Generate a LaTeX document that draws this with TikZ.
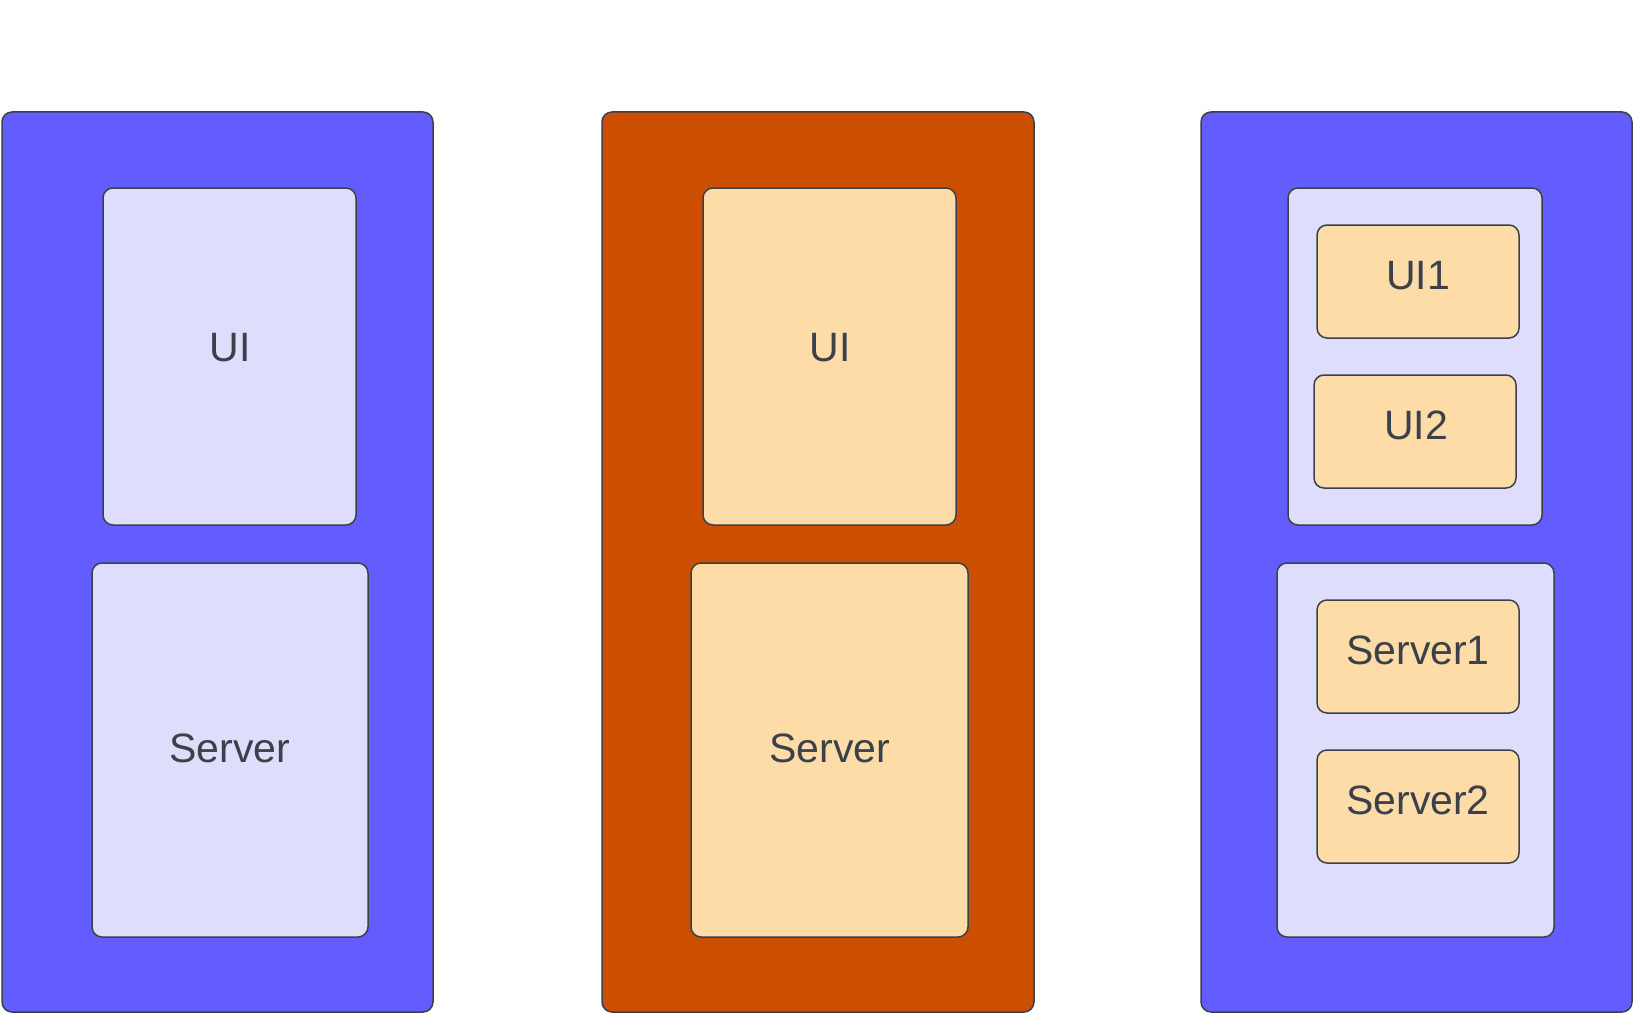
\documentclass[tikz,border=0pt]{standalone}
\usepackage{fontspec}
\setmainfont{Liberation Sans}
\definecolor{cblue}{HTML}{635DFF}
\definecolor{corange}{HTML}{CC4E00}
\definecolor{clav}{HTML}{DEDEFC}
\definecolor{cpeach}{HTML}{FDDCA8}
\definecolor{cline}{HTML}{3B4049}
\tikzset{
  boxbase/.style={draw=cline, line width=1.5pt, rounded corners=10pt, inner sep=0pt},
  outerblue/.style={boxbase, fill=cblue},
  outerorange/.style={boxbase, fill=corange},
  lavbox/.style={boxbase, fill=clav},
  peachbox/.style={boxbase, fill=cpeach},
  lbl/.style={text=cline, font=\fontsize{41pt}{49pt}\selectfont, inner sep=0pt}
}
\begin{document}
\begin{tikzpicture}[x=1pt,y=-1pt]
\useasboundingbox (0,0) rectangle (1633,1014);
% outer columns
\node[outerblue, minimum width=431pt, minimum height=900pt] (L) at (217.5,562) {};
\node[outerorange, minimum width=432pt, minimum height=900pt] (M) at (818,562) {};
\node[outerblue, minimum width=431pt, minimum height=900pt] (R) at (1416.5,562) {};
% left column
\node[lavbox, minimum width=253pt, minimum height=337pt] (LUI) at (229.5,356.5) {};
\node[lavbox, minimum width=276pt, minimum height=374pt] (LSV) at (230,750) {};
\node[lbl] (LUIt) at (230,348) {UI};
\node[lbl] (LSVt) at (230,748) {Server};
% middle column
\node[peachbox, minimum width=253pt, minimum height=337pt] (MUI) at (829.5,356.5) {};
\node[peachbox, minimum width=277pt, minimum height=374pt] (MSV) at (829.5,750) {};
\node[lbl] (MUIt) at (830,348) {UI};
\node[lbl] (MSVt) at (830,748) {Server};
% right column
\node[lavbox, minimum width=254pt, minimum height=337pt] (RUI) at (1415,356.5) {};
\node[lavbox, minimum width=277pt, minimum height=374pt] (RSV) at (1415.5,750) {};
\node[peachbox, minimum width=202pt, minimum height=113pt] (UI1) at (1418,281.5) {};
\node[peachbox, minimum width=202pt, minimum height=113pt] (UI2) at (1415,431.5) {};
\node[peachbox, minimum width=202pt, minimum height=113pt] (SV1) at (1418,656.5) {};
\node[peachbox, minimum width=202pt, minimum height=113pt] (SV2) at (1418,806.5) {};
\node[lbl] (UI1t) at (1418,275.5) {UI1};
\node[lbl] (UI2t) at (1416,425.5) {UI2};
\node[lbl] (SV1t) at (1418,650) {Server1};
\node[lbl] (SV2t) at (1418,800) {Server2};
\end{tikzpicture}
\end{document}
